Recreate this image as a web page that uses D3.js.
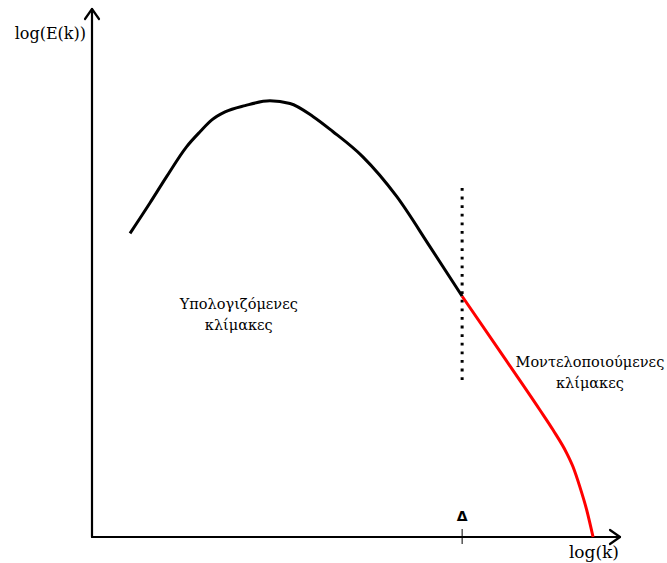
<!DOCTYPE html>
<html>
<head>
<meta charset="utf-8">
<script src="https://cdn.jsdelivr.net/npm/d3@7"></script>
<style>
  html, body { margin: 0; padding: 0; background: #fff; }
  svg { display: block; }
</style>
</head>
<body>
<svg id="chart" width="667" height="563"></svg>
<script>
// Energy spectrum sketch: log(E(k)) against log(k), in arbitrary units (0–100)
const resolvedK = [7.2, 11.0, 14.1, 17.9, 20.5, 22.7, 25.2, 29.0, 33.7, 37.5, 41.9, 45.6, 51.3, 57.7, 64.0, 70.1];
const resolvedE = [57.5, 63.3, 68.2, 73.9, 76.8, 79.0, 80.5, 81.7, 82.6, 82.1, 79.6, 76.8, 72.0, 64.5, 55.0, 45.6];

const modelledK = [70.1, 77.3, 84.8, 87.3, 89.9, 91.1, 92.4, 93.7, 94.9];
const modelledE = [45.6, 35.1, 24.1, 20.3, 15.9, 13.3, 9.5, 5.1, 0.0];

// filter cut-off Δ and the extent of its marker line
const cutoffK = 70.1;
const cutoffRange = [28.7, 66.1];

const axisLabels = { x: "log(k)", y: "log(E(k))", cutoff: "Δ" };
const regionLabels = [
  { lines: ["Υπολογιζόμενες", "κλίμακες"], k: 27.8, e: 43.2 },
  { lines: ["Μοντελοποιούμενες", "κλίμακες"], k: 94.3, e: 32.2 }
];

const serif = "'DejaVu Serif', serif";

const svg = d3.select("#chart");

const x = d3.scaleLinear().domain([0, 100]).range([92, 620]);
const y = d3.scaleLinear().domain([0, 100]).range([537, 9]);

// axes with open arrowheads
const axes = svg.append("g").attr("stroke", "#000").attr("stroke-width", 2.2)
  .attr("fill", "none").attr("stroke-linecap", "round").attr("stroke-linejoin", "round");
axes.append("path").attr("d", d3.line()([[x(0), y(0)], [x(0), y(100)]]));
axes.append("path").attr("d", d3.line()([[x(0), y(0)], [x(100), y(0)]]));
axes.append("path").attr("d", d3.line()([[x(0) - 7, y(100) + 10], [x(0), y(100)], [x(0) + 7, y(100) + 10]]));
axes.append("path").attr("d", d3.line()([[x(100) - 10, y(0) - 7], [x(100), y(0)], [x(100) - 10, y(0) + 7]]));

// cut-off tick and label
svg.append("line")
  .attr("x1", x(cutoffK)).attr("x2", x(cutoffK))
  .attr("y1", y(0) - 8).attr("y2", y(0) + 7)
  .attr("stroke", "#000").attr("stroke-width", 1);
svg.append("text")
  .attr("x", x(cutoffK)).attr("y", y(0) - 16)
  .attr("text-anchor", "middle")
  .attr("font-family", "'DejaVu Sans', sans-serif")
  .attr("font-weight", "bold")
  .attr("font-size", 14)
  .text(axisLabels.cutoff);

// axis titles
svg.append("text").attr("x", x(0) - 6).attr("y", y(100) + 30)
  .attr("text-anchor", "end").attr("font-family", serif).attr("font-size", 16)
  .text(axisLabels.y);
svg.append("text").attr("x", x(100) - 1).attr("y", y(0) + 21)
  .attr("text-anchor", "end").attr("font-family", serif).attr("font-size", 17)
  .text(axisLabels.x);

// dotted cut-off line
svg.append("line")
  .attr("x1", x(cutoffK)).attr("x2", x(cutoffK))
  .attr("y1", y(cutoffRange[1])).attr("y2", y(cutoffRange[0]))
  .attr("stroke", "#000").attr("stroke-width", 3)
  .attr("stroke-dasharray", "2.8,5.8");

// spectrum curves
const line = d3.line().x(d => x(d[0])).y(d => y(d[1])).curve(d3.curveMonotoneX);
svg.append("path")
  .attr("d", line(d3.zip(resolvedK, resolvedE)))
  .attr("fill", "none").attr("stroke", "#000").attr("stroke-width", 3);
svg.append("path")
  .attr("d", line(d3.zip(modelledK, modelledE)))
  .attr("fill", "none").attr("stroke", "#ff0000").attr("stroke-width", 3);

// region labels
regionLabels.forEach(r => {
  const t = svg.append("text").attr("text-anchor", "middle")
    .attr("font-family", serif).attr("font-size", 14.5);
  r.lines.forEach((s, i) => {
    t.append("tspan").attr("x", x(r.k)).attr("y", y(r.e) + i * 21).text(s);
  });
});
</script>
</body>
</html>
